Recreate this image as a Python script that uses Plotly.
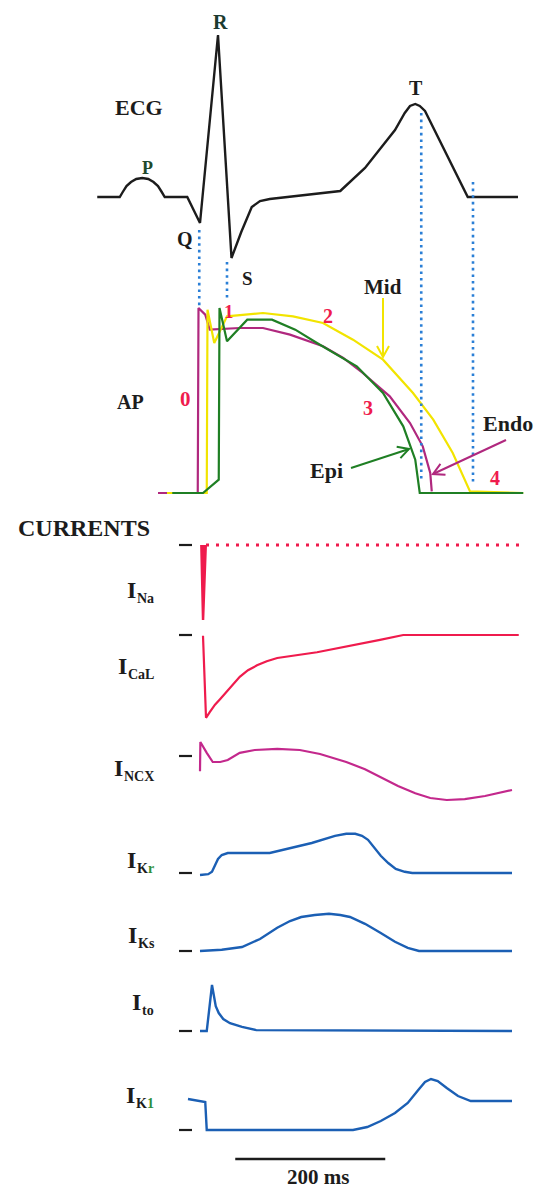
import math
import plotly.graph_objects as go

W, H = 539, 1190
PX_PER_MS = 0.75          # horizontal scale: 150 px = 200 ms
T0_PX = 200               # pixel column of t = 0 ms (Q wave)

# ---------------- data (time in ms, t = 0 at the Q wave) ----------------
ecg_t = [-137, -107, -103, -98, -92, -85, -77, -69, -62, -56, -51, -47, -17, 0, 24, 42,
         55, 69, 80, 93, 187, 220, 260, 273, 280, 287, 293, 300, 357, 424]
ecg_mv = [0, 0, 0.05, 0.11, 0.15, 0.18, 0.19, 0.18, 0.15, 0.11, 0.05, 0, 0, -0.26, 1.62, -0.61,
          -0.35, -0.10, -0.04, -0.02, 0.06, 0.29, 0.67, 0.84, 0.91, 0.93, 0.91, 0.86, 0, 0]

endo_t = [-56, -3, -2, 7, 13, 53, 84, 120, 164, 191, 217, 253, 280, 297, 307, 309]
endo_mv = [-85, -85, 26, 22, 13, 14, 14, 10, 3, -4, -13, -27, -43, -57, -73, -84]

mid_t = [-44, 9, 10, 19, 36, 84, 124, 164, 204, 244, 284, 311, 337, 360, 431]
mid_mv = [-85, -85, 25, 5, 21, 23, 21, 17, 7, -5, -25, -41, -61, -84, -85]

epi_t = [-37, 4, 25, 26, 36, 63, 96, 127, 156, 209, 244, 271, 287, 293, 431]
epi_mv = [-85, -85, -77, 26, 6, 19, 19, 13, 5, -9, -25, -45, -65, -85, -85]

ina_t = [1.5, 4, 8]
ina_v = [0, -1.0, 0]
ina_zero_t = [8, 427]
ina_zero_v = [0, 0]

ical_t = [4, 8, 13, 20, 27, 33, 43, 53, 64, 76, 89, 103, 156, 209, 240, 271, 425]
ical_v = [-0.01, -1.01, -0.94, -0.85, -0.78, -0.72, -0.61, -0.51, -0.43, -0.37, -0.32, -0.28,
          -0.21, -0.12, -0.06, 0, 0]

ncx_t = [0, 0.5, 9, 17, 27, 37, 53, 73, 103, 133, 160, 195, 220, 241, 264, 287, 307, 329, 353, 380, 416]
ncx_v = [-0.38, 0.35, 0.08, -0.15, -0.15, -0.10, 0.08, 0.15, 0.18, 0.15, 0.05, -0.15, -0.33, -0.53,
         -0.75, -0.93, -1.05, -1.10, -1.08, -1.00, -0.85]

ikr_t = [0, 11, 16, 20, 24, 29, 37, 93, 149, 180, 195, 207, 216, 224, 232, 241, 251, 261, 273, 283, 416]
ikr_v = [-0.05, -0.03, 0.03, 0.18, 0.35, 0.45, 0.50, 0.50, 0.75, 0.93, 0.98, 0.98, 0.93, 0.83, 0.65,
         0.43, 0.25, 0.10, 0.03, 0, 0]

iks_t = [0, 29, 56, 80, 103, 120, 135, 153, 172, 187, 200, 220, 241, 260, 277, 292, 416]
iks_v = [0, 0.03, 0.10, 0.30, 0.58, 0.75, 0.85, 0.90, 0.93, 0.90, 0.85, 0.68, 0.45, 0.23, 0.08, 0, 0]

ito_t = [0, 9, 16, 19, 21, 25, 31, 40, 56, 75, 416]
ito_v = [0, 0, 1.0, 0.74, 0.54, 0.39, 0.26, 0.17, 0.09, 0.02, 0]

ik1_t = [-16, 7, 9, 204, 223, 241, 260, 277, 291, 300, 308, 317, 329, 344, 361, 416]
ik1_v = [0.62, 0.56, 0, 0, 0.06, 0.18, 0.34, 0.54, 0.80, 0.96, 1.02, 0.98, 0.84, 0.68, 0.58, 0.58]

event_t = [-1, 36, 295, 364]          # Q, S, T peak, end of T
scale_bar_start_ms, scale_bar_ms = 47, 200

# ---------------- colours ----------------
BLACK = "#1c1c1c"
ENDO = "#b0287e"
MID = "#f2e400"
EPI = "#1f7f24"
RED = "#ef1b4d"
NCX = "#c3288c"
BLUE = "#1b5fb4"
GUIDE = "#2a7fd6"
SUBGREEN = "#2f8f3a"
SERIF = "Liberation Serif"

# ---------------- axes: one shared time axis, one y axis per panel ----------------
# (band top px, band bottom px, reference px, value at reference px, px per unit)
panels = {
    "y":  (0, 300, 197, 0.0, 100.0),      # ECG (mV)
    "y2": (280, 505, 493, -85.0, 5 / 3),  # AP (mV)
    "y3": (530, 640, 545, 0.0, 83.0),     # INa
    "y4": (620, 730, 635, 0.0, 82.0),     # ICaL
    "y5": (735, 815, 756, 0.0, 40.0),     # INCX
    "y6": (825, 890, 873, 0.0, 40.0),     # IKr
    "y7": (905, 965, 951, 0.0, 40.0),     # IKs
    "y8": (975, 1045, 1031, 0.0, 46.0),   # Ito
    "y9": (1070, 1145, 1130, 0.0, 50.0),  # IK1
}

layout_axes = {}
for name, (top, bot, ref_px, ref_val, ppu) in panels.items():
    key = "yaxis" + name[1:]
    layout_axes[key] = dict(
        domain=[1 - bot / H, 1 - top / H],
        range=[ref_val - (bot - ref_px) / ppu, ref_val + (ref_px - top) / ppu],
        visible=False, anchor="x", fixedrange=True,
    )

fig = go.Figure()


def add_line(t, v, yax, color, width=2.0, **extra):
    fig.add_trace(go.Scatter(
        x=t, y=v, xaxis="x", yaxis=yax, mode="lines",
        line=dict(color=color, width=width, **extra.pop("line", {})),
        hoverinfo="skip", showlegend=False, **extra))


# ECG
add_line(ecg_t, ecg_mv, "y", BLACK, 2.4)

# Action potentials
add_line(endo_t, endo_mv, "y2", ENDO, 2.2)
add_line(mid_t, mid_mv, "y2", MID, 2.2)
add_line(epi_t, epi_mv, "y2", EPI, 2.2)

# Currents
add_line(ina_zero_t, ina_zero_v, "y3", RED, 3, line=dict(dash="3px,7px"))
add_line(ina_t, ina_v, "y3", RED, 2, fill="toself", fillcolor=RED)
add_line(ical_t, ical_v, "y4", RED, 2.2)
add_line(ncx_t, ncx_v, "y5", NCX, 2.2)
add_line(ikr_t, ikr_v, "y6", BLUE, 2.4)
add_line(iks_t, iks_v, "y7", BLUE, 2.4)
add_line(ito_t, ito_v, "y8", BLUE, 2.4)
add_line(ik1_t, ik1_v, "y9", BLUE, 2.4)


def px2t(px):
    return (px - T0_PX) / PX_PER_MS


def py2paper(py):
    return 1 - py / H


shapes = []
# zero marks for each current trace
for yax in ["y3", "y4", "y5", "y6", "y7", "y8", "y9"]:
    shapes.append(dict(type="line", xref="x", yref=yax, x0=px2t(179), x1=px2t(192), y0=0, y1=0,
                       line=dict(color=BLACK, width=2.2), layer="above"))

# dotted event guides linking ECG to the action potentials
guide_span_px = [(230, 308), (262, 300), (113, 482), (182, 483)]
for t, (top, bot) in zip(event_t, guide_span_px):
    shapes.append(dict(type="line", xref="x", yref="paper", x0=t, x1=t,
                       y0=py2paper(top), y1=py2paper(bot),
                       line=dict(color=GUIDE, width=2.6, dash="2.6px,4px"), layer="above"))

# time scale bar
shapes.append(dict(type="line", xref="x", yref="paper",
                   x0=scale_bar_start_ms, x1=scale_bar_start_ms + scale_bar_ms,
                   y0=py2paper(1159), y1=py2paper(1159),
                   line=dict(color=BLACK, width=2.5)))


def arrow(tail, head, color, head_len=11, head_half=6):
    """Pointer line with an open V head, given in page pixels."""
    (x0, y0), (x1, y1) = tail, head
    L = math.hypot(x1 - x0, y1 - y0)
    ux, uy = (x1 - x0) / L, (y1 - y0) / L
    nx, ny = -uy, ux
    bx, by = x1 - ux * head_len, y1 - uy * head_len
    p1 = (bx + nx * head_half, by + ny * head_half)
    p2 = (bx - nx * head_half, by - ny * head_half)
    shapes.append(dict(type="line", xref="paper", yref="paper",
                       x0=x0 / W, y0=py2paper(y0), x1=x1 / W, y1=py2paper(y1),
                       line=dict(color=color, width=2), layer="above"))
    path = "M {:.5f} {:.5f} L {:.5f} {:.5f} L {:.5f} {:.5f}".format(
        p1[0] / W, py2paper(p1[1]), x1 / W, py2paper(y1), p2[0] / W, py2paper(p2[1]))
    shapes.append(dict(type="path", xref="paper", yref="paper", path=path,
                       line=dict(color=color, width=2), layer="above"))


arrow((383, 298), (383, 357), MID)
arrow((351, 468), (409, 449), EPI)
arrow((506, 440), (433, 474), ENDO)

annotations = []


def label(text, px, py, size, color=BLACK, xanchor="center", yanchor="middle"):
    annotations.append(dict(
        text=text, x=px / W, y=py2paper(py), xref="paper", yref="paper",
        showarrow=False, xanchor=xanchor, yanchor=yanchor, borderpad=0,
        font=dict(family=SERIF, size=size, color=color)))


# ECG labels
label("<b>ECG</b>", 139, 107, 22)
label("<b>P</b>", 147, 168, 18, "#1f4a2c")
label("<b>R</b>", 220, 22, 20, "#1b3b30")
label("<b>Q</b>", 185, 239, 20)
label("<b>S</b>", 247, 278, 19)
label("<b>T</b>", 416, 88, 20)

# AP labels
label("<b>AP</b>", 130, 402, 20)
label("<b>0</b>", 185, 399, 21, RED)
label("<b>1</b>", 229, 312, 19, RED)
label("<b>2</b>", 328, 316, 20, RED)
label("<b>3</b>", 368, 408, 20, RED)
label("<b>4</b>", 495, 478, 20, RED)
label("<b>Mid</b>", 383, 287, 21)
label("<b>Endo</b>", 508, 423, 22)
label("<b>Epi</b>", 326, 471, 22)

# Current labels: a large "I" followed by small subscript pieces
SUB_SIZE = 14
I_SIZE = 24
BOLD_W = {"N": .722, "a": .5, "C": .722, "L": .667, "X": .722, "K": .778, "r": .444,
          "s": .389, "t": .333, "o": .5, "1": .5}
cur_labels = [
    ([("Na", BLACK)], 590),
    ([("CaL", BLACK)], 666),
    ([("NCX", BLACK)], 768),
    ([("K", BLACK), ("r", SUBGREEN)], 860),
    ([("Ks", BLACK)], 935),
    ([("to", BLACK)], 1002),
    ([("K", BLACK), ("1", SUBGREEN)], 1095),
]
RIGHT_EDGE = 153
for pieces, py in cur_labels:
    sub_w = sum(BOLD_W[c] for s, _ in pieces for c in s) * SUB_SIZE
    x = RIGHT_EDGE - sub_w
    label("<b>I</b>", x + 1, py, I_SIZE, xanchor="right")
    for s, col in pieces:
        label("<b>%s</b>" % s, x, py + 8, SUB_SIZE, col, xanchor="left")
        x += sum(BOLD_W[c] for c in s) * SUB_SIZE

label("<b>CURRENTS</b>", 84, 528, 24)
label("<b>200 ms</b>", 318, 1177, 21)

fig.update_layout(
    width=W, height=H, margin=dict(l=0, r=0, t=0, b=0),
    paper_bgcolor="white", plot_bgcolor="white",
    xaxis=dict(domain=[0, 1], range=[px2t(0), px2t(W)], visible=False, fixedrange=True),
    shapes=shapes, annotations=annotations,
    **layout_axes,
)

fig.write_html("out.html")
